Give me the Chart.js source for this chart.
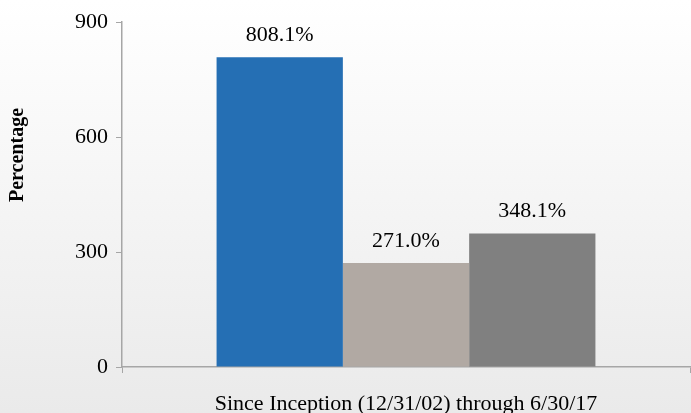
<!DOCTYPE html>
<html>
<head>
<meta charset="utf-8">
<script src="https://cdn.jsdelivr.net/npm/chart.js@4"></script>
<style>
  html, body { margin: 0; padding: 0; }
  #wrap { width: 691px; height: 413px; }
</style>
</head>
<body>
<div id="wrap"><canvas id="chart" width="691" height="413"></canvas></div>
<script>
const CATEGORIES = ['Since Inception (12/31/02) through 6/30/17'];
const SERIES_NAMES = ['Fund', 'Benchmark A', 'Benchmark B'];
const SERIES_VALUES = [[808.1], [271.0], [348.1]];
const SERIES_COLORS = ['#256fb4', '#b1a9a3', '#808080'];
const Y_TICKS = [0, 300, 600, 900];

const FONT = '"Liberation Serif", "Times New Roman", Times, serif';
const AXIS_COLOR = '#a6a6a6';

// background fade + custom y title + value labels
const decor = {
  id: 'decor',
  beforeDraw(chart) {
    const ctx = chart.ctx;
    const g = ctx.createLinearGradient(0, 0, 0, chart.height);
    g.addColorStop(0, '#ffffff');
    g.addColorStop(1, '#eaeaea');
    ctx.save();
    ctx.fillStyle = g;
    ctx.fillRect(0, 0, chart.width, chart.height);
    ctx.restore();
  },
  afterDatasetsDraw(chart) {
    const ctx = chart.ctx;
    ctx.save();
    ctx.fillStyle = '#000';
    ctx.font = '22px ' + FONT;
    ctx.textAlign = 'center';
    ctx.textBaseline = 'bottom';
    chart.data.datasets.forEach((ds, i) => {
      chart.getDatasetMeta(i).data.forEach((bar, j) => {
        ctx.fillText(ds.data[j].toFixed(1) + '%', bar.x, bar.y - 11);
      });
    });
    // y axis title
    ctx.font = 'bold 20px ' + FONT;
    ctx.translate(18, 155);
    ctx.rotate(-Math.PI / 2);
    ctx.textBaseline = 'middle';
    ctx.fillText('Percentage', 0, 0);
    ctx.restore();
  }
};

const ctx = document.getElementById('chart');
const chart = new Chart(ctx, {
  type: 'bar',
  data: {
    labels: CATEGORIES,
    datasets: SERIES_NAMES.map((name, i) => ({
      label: name,
      data: SERIES_VALUES[i],
      backgroundColor: SERIES_COLORS[i],
      borderWidth: 0,
      barPercentage: 1.0,
      categoryPercentage: 0.667
    }))
  },
  options: {
    responsive: false,
    animation: false,
    layout: { padding: { top: 22, right: 1, left: 0, bottom: 0 } },
    plugins: {
      legend: { display: false },
      tooltip: { enabled: false }
    },
    scales: {
      x: {
        grid: { display: true, drawOnChartArea: false, drawTicks: true, tickLength: 6, color: AXIS_COLOR, offset: true },
        border: { color: AXIS_COLOR, width: 1.5 },
        ticks: { color: '#000', font: { family: FONT, size: 22 }, padding: 18 },
        afterFit(scale) { scale.height = 46; }
      },
      y: {
        min: 0,
        max: 900,
        afterBuildTicks(scale) { scale.ticks = Y_TICKS.map(v => ({ value: v })); },
        grid: { display: true, drawOnChartArea: false, drawTicks: true, tickLength: 6, color: AXIS_COLOR },
        border: { color: AXIS_COLOR, width: 1.5 },
        ticks: { color: '#000', font: { family: FONT, size: 22 }, padding: 8 },
        afterFit(scale) { scale.width = 122; }
      }
    }
  },
  plugins: [decor]
});
</script>
</body>
</html>
